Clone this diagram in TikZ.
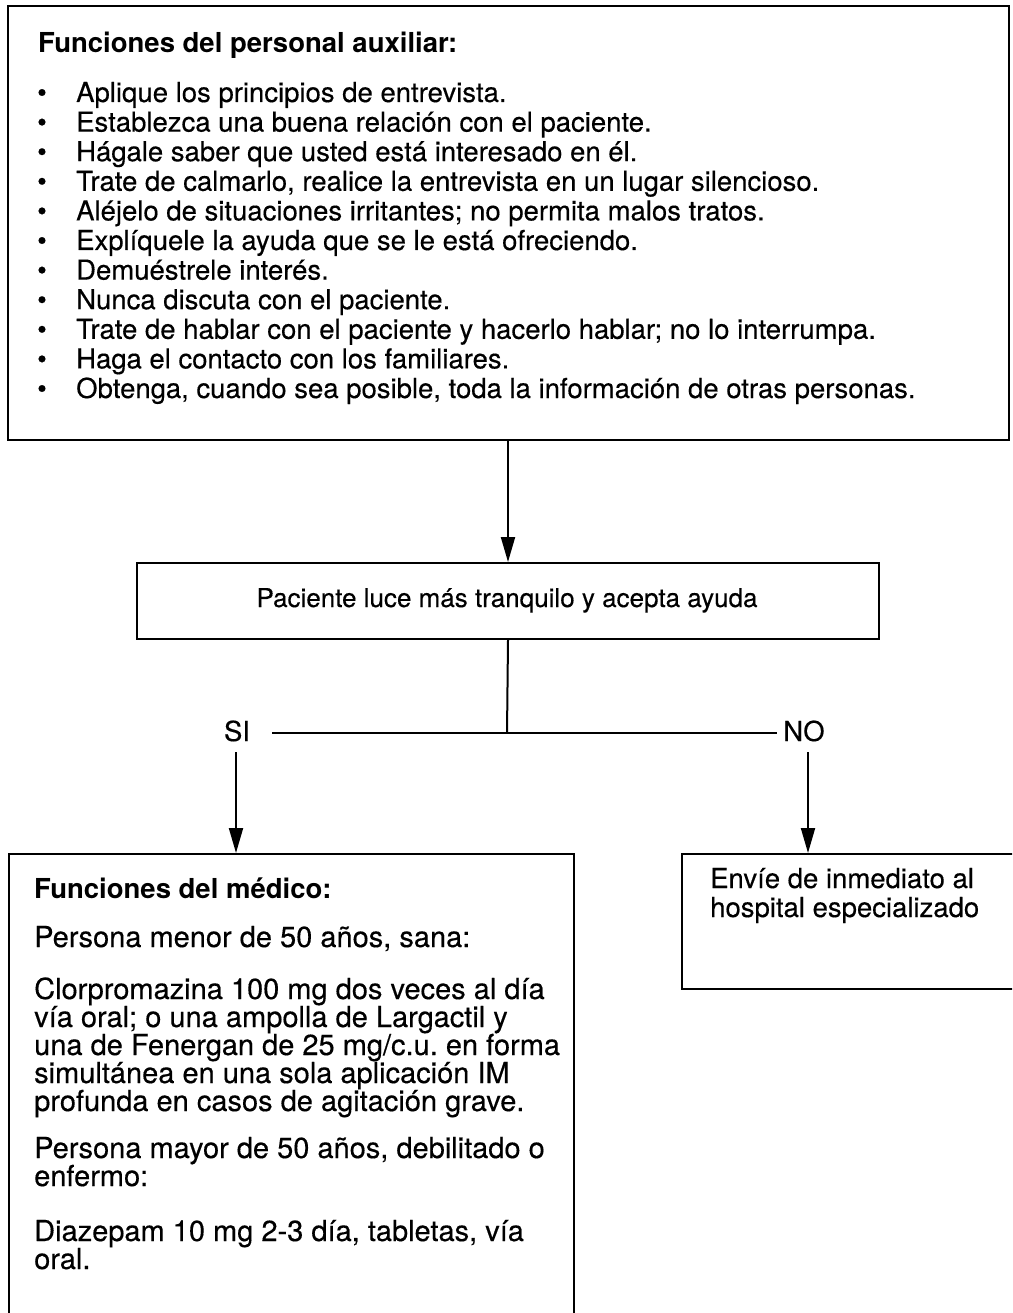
\documentclass[tikz,border=0pt]{standalone}
\usepackage{fontspec}
\setmainfont{TeX Gyre Heros}
\newfontfamily\bodyfont{TeX Gyre Heros}[FakeBold=0.35]
\usetikzlibrary{arrows.meta}
\frenchspacing
\begin{document}
\begin{tikzpicture}[x=1pt,y=-1pt,
  box/.style={draw, line width=2pt, rectangle, inner sep=0pt, anchor=north west},
  txt/.style={anchor=base west, inner sep=0pt, font=\bodyfont\fontsize{27.5}{30}\selectfont},
  medtxt/.style={txt, font=\bodyfont\fontsize{29}{30}\selectfont},
  btxt/.style={txt, font=\fontsize{27.5}{30}\selectfont\bfseries},
  lbl/.style={anchor=base, inner sep=0pt, font=\bodyfont\fontsize{27.5}{30}\selectfont},
  midlbl/.style={lbl, font=\bodyfont\fontsize{26}{30}\selectfont},
  conn/.style={line width=2pt},
  arr/.style={conn, -{Triangle[length=25pt,width=14pt]}}
]
\useasboundingbox (0,0) rectangle (1012,1313);
\clip (0,0) rectangle (1012,1313);

% boxes
\node[box, minimum width=1001pt, minimum height=434pt] (aux) at (7,5) {};
\node[box, minimum width=742pt, minimum height=76pt] (mid) at (136,562) {};
\node[box, minimum width=565pt, minimum height=520pt] (med) at (8,853) {};
\node[box, minimum width=400pt, minimum height=135pt] (hosp) at (681,853) {};

% auxiliary staff duties
\node[btxt] (auxtitle) at (38,53) {Funciones del personal auxiliar:};
\foreach \t [count=\i] in {
  {Aplique los principios de entrevista.},
  {Establezca una buena relación con el paciente.},
  {Hágale saber que usted está interesado en él.},
  {Trate de calmarlo, realice la entrevista en un lugar silencioso.},
  {Aléjelo de situaciones irritantes; no permita malos tratos.},
  {Explíquele la ayuda que se le está ofreciendo.},
  {Demuéstrele interés.},
  {Nunca discuta con el paciente.},
  {Trate de hablar con el paciente y hacerlo hablar; no lo interrumpa.},
  {Haga el contacto con los familiares.},
  {Obtenga, cuando sea posible, toda la información de otras personas.}}
{
  \pgfmathsetmacro{\yy}{102+(\i-1)*29.6}
  \node[lbl] (bul\i) at (42,\yy) {\textbullet};
  \node[txt] (item\i) at (76,\yy) {\t};
}

% decision
\node[midlbl] (midtext) at (507,607) {Paciente luce más tranquilo y acepta ayuda};
\node[lbl] (si) at (237,741) {SI};
\node[lbl] (no) at (804,741) {NO};

\coordinate (join) at (507,733);
\coordinate (siend) at (272,733);
\coordinate (noend) at (777,733);
\coordinate (sitop) at (236,752);
\coordinate (notop) at (808,752);

\draw[arr] (aux.south -| mid.north) -- (mid.north);
\draw[conn] (mid.south) -- (join);
\draw[conn] (siend) -- (noend);
\draw[arr] (sitop) -- (sitop |- med.north);
\draw[arr] (notop) -- (notop |- hosp.north);

% physician duties
\node[btxt] (medtitle) at (34,898) {Funciones del médico:};
\node[medtxt] (m1) at (34,947) {Persona menor de 50 años, sana:};
\node[medtxt] (m2) at (34,999) {Clorpromazina 100 mg dos veces al día};
\node[medtxt] (m3) at (34,1027) {vía oral; o una ampolla de Largactil y};
\node[medtxt] (m4) at (34,1055) {una de Fenergan de 25 mg/c.u. en forma};
\node[medtxt] (m5) at (34,1083) {simultánea en una sola aplicación IM};
\node[medtxt] (m6) at (34,1111) {profunda en casos de agitación grave.};
\node[medtxt] (m7) at (34,1158) {Persona mayor de 50 años, debilitado o};
\node[medtxt] (m8) at (34,1186) {enfermo:};
\node[medtxt] (m9) at (34,1241) {Diazepam 10 mg 2-3 día, tabletas, vía};
\node[medtxt] (m10) at (34,1269) {oral.};

% referral
\node[txt] (h1) at (710,888) {Envíe de inmediato al};
\node[txt] (h2) at (710,917) {hospital especializado};
\end{tikzpicture}
\end{document}
